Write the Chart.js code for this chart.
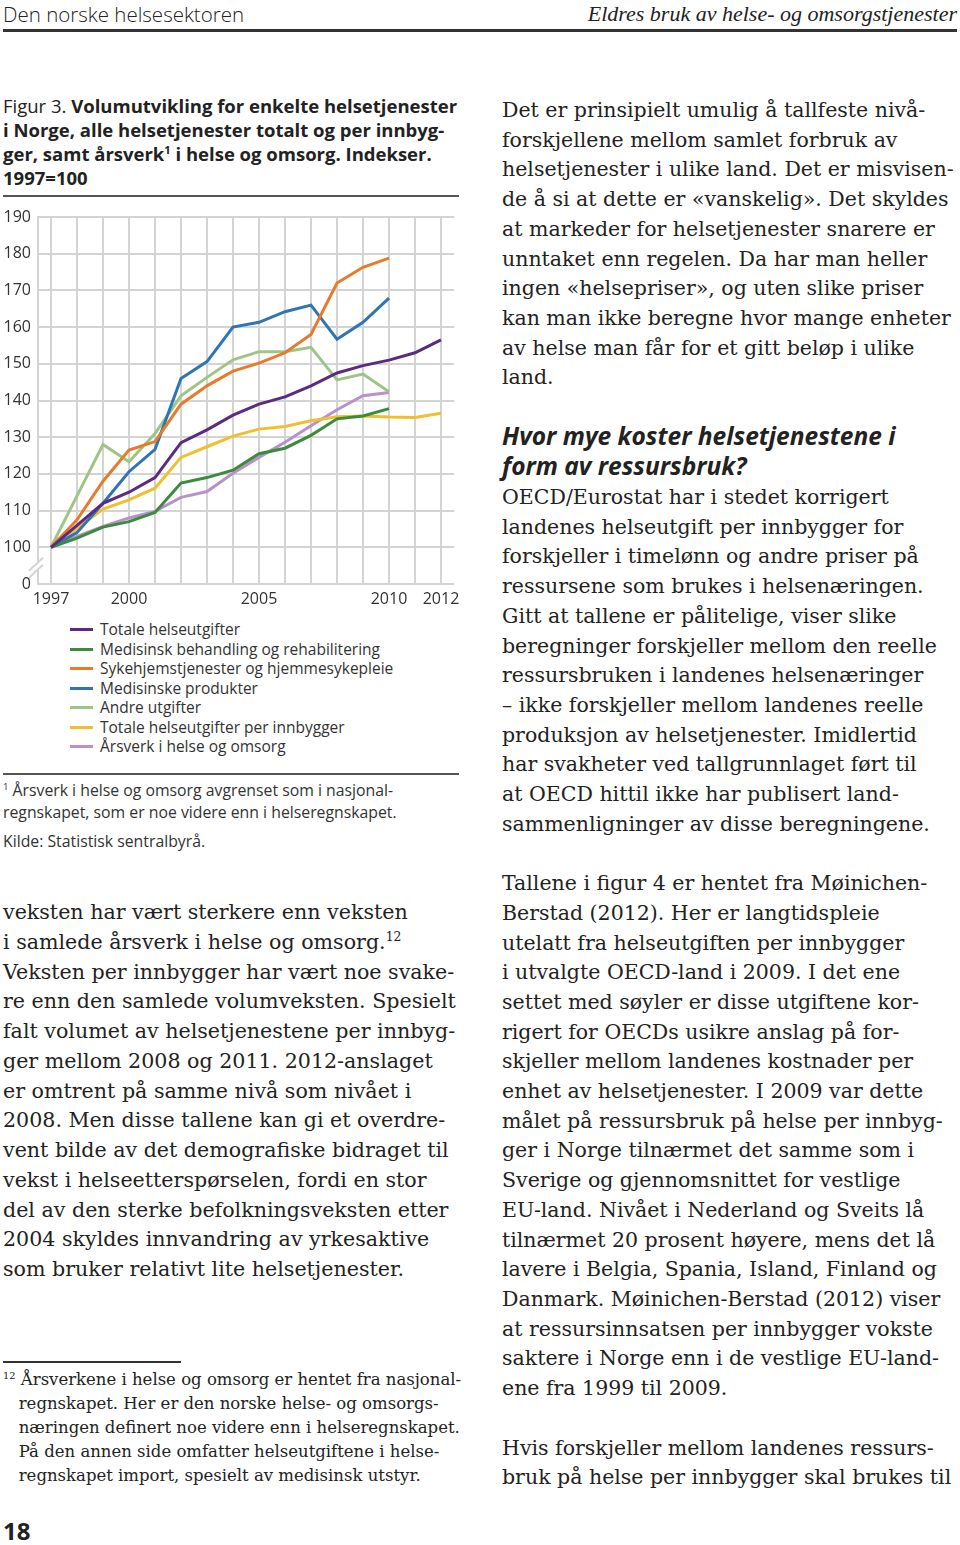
<!DOCTYPE html>
<html lang="no">
<head>
<meta charset="utf-8">
<script src="https://cdn.jsdelivr.net/npm/chart.js@4.4.1/dist/chart.umd.min.js"></script>
<style>
  html, body { margin: 0; padding: 0; background: #fff; }
  body { width: 960px; height: 1545px; position: relative; overflow: hidden; color: #222; }
  .abs { position: absolute; white-space: pre; }
  .sans { font-family: "Open Sans", "Noto Sans", sans-serif; }
  .serif { font-family: "DejaVu Serif", "Liberation Serif", serif; }
  .lserif { font-family: "Liberation Serif", serif; }
  .rule { position: absolute; }
  sup { font-size: 0.6em; line-height: 0; vertical-align: 0.65em; }
  #legend { position: absolute; left: 70px; top: 620px; font-family: "Open Sans", sans-serif; font-size: 15.5px; color: #333; }
  #legend .row { height: 19.5px; line-height: 19.5px; white-space: nowrap; display: flex; align-items: center; }
  #legend .sw { width: 23px; height: 3px; margin-right: 7px; }
</style>
</head>
<body>

<!-- Running head -->
<div class="abs sans" style="left:3px; top:0px; font-size:20.5px; line-height:28px; color:#222; font-weight:300;">Den norske helsesektoren</div>
<div class="abs lserif" style="right:3px; top:0px; font-size:22px; line-height:28px; font-style:italic; color:#222;">Eldres bruk av helse- og omsorgstjenester</div>
<div class="rule" style="left:3px; top:29px; width:954px; height:3px; background:#333;"></div>

<!-- Figure caption -->
<div class="abs sans" style="left:3px; top:94px; font-size:18.5px; line-height:24px; color:#222;">Figur 3. <b>Volumutvikling for enkelte helsetjenester</b>
<b>i Norge, alle helsetjenester totalt og per innbyg-</b>
<b>ger, samt årsverk<sup>1</sup> i helse og omsorg. Indekser.</b>
<b>1997=100</b></div>
<div class="rule" style="left:3px; top:195px; width:456px; height:2px; background:#555;"></div>

<!-- Chart -->
<div style="position:absolute; left:0px; top:200px; width:470px; height:412px;">
  <canvas id="c" width="470" height="412"></canvas>
</div>
<div id="legend"></div>
<div class="rule" style="left:3px; top:773px; width:456px; height:2px; background:#555;"></div>

<div class="abs sans" style="left:3px; top:779px; font-size:15.8px; line-height:22px; color:#333;"><sup>1</sup> Årsverk i helse og omsorg avgrenset som i nasjonal-
regnskapet, som er noe videre enn i helseregnskapet.</div>
<div class="abs sans" style="left:3px; top:830px; font-size:15.8px; line-height:22px; color:#333;">Kilde: Statistisk sentralbyrå.</div>

<!-- Left body text -->
<div class="abs serif" style="left:3px; top:898px; font-size:20.6px; line-height:29.75px;">veksten har vært sterkere enn veksten
i samlede årsverk i helse og omsorg.<sup>12</sup>
Veksten per innbygger har vært noe svake-
re enn den samlede volumveksten. Spesielt
falt volumet av helsetjenestene per innbyg-
ger mellom 2008 og 2011. 2012-anslaget
er omtrent på samme nivå som nivået i
2008. Men disse tallene kan gi et overdre-
vent bilde av det demografiske bidraget til
vekst i helseetterspørselen, fordi en stor
del av den sterke befolkningsveksten etter
2004 skyldes innvandring av yrkesaktive
som bruker relativt lite helsetjenester.</div>

<!-- Footnote 12 -->
<div class="rule" style="left:3px; top:1361px; width:178px; height:1.5px; background:#333;"></div>
<div class="abs serif" style="left:3px; top:1368px; font-size:16.5px; line-height:24px;"><sup>12</sup> Årsverkene i helse og omsorg er hentet fra nasjonal-
   regnskapet. Her er den norske helse- og omsorgs-
   næringen definert noe videre enn i helseregnskapet.
   På den annen side omfatter helseutgiftene i helse-
   regnskapet import, spesielt av medisinsk utstyr.</div>

<div class="abs sans" style="left:3px; top:1516px; font-size:24px; line-height:30px; font-weight:bold; color:#222;">18</div>

<!-- Right column -->
<div class="abs serif" style="left:502px; top:96px; font-size:20.5px; line-height:29.7px;">Det er prinsipielt umulig å tallfeste nivå-
forskjellene mellom samlet forbruk av
helsetjenester i ulike land. Det er misvisen-
de å si at dette er «vanskelig». Det skyldes
at markeder for helsetjenester snarere er
unntaket enn regelen. Da har man heller
ingen «helsepriser», og uten slike priser
kan man ikke beregne hvor mange enheter
av helse man får for et gitt beløp i ulike
land.</div>

<div class="abs sans" style="left:502px; top:421px; font-size:24.5px; line-height:29.7px; font-weight:bold; font-style:italic; color:#222;">Hvor mye koster helsetjenestene i
form av ressursbruk?</div>

<div class="abs serif" style="left:502px; top:483px; font-size:20.5px; line-height:29.7px;">OECD/Eurostat har i stedet korrigert
landenes helseutgift per innbygger for
forskjeller i timelønn og andre priser på
ressursene som brukes i helsenæringen.
Gitt at tallene er pålitelige, viser slike
beregninger forskjeller mellom den reelle
ressursbruken i landenes helsenæringer
– ikke forskjeller mellom landenes reelle
produksjon av helsetjenester. Imidlertid
har svakheter ved tallgrunnlaget ført til
at OECD hittil ikke har publisert land-
sammenligninger av disse beregningene.

Tallene i figur 4 er hentet fra Møinichen-
Berstad (2012). Her er langtidspleie
utelatt fra helseutgiften per innbygger
i utvalgte OECD-land i 2009. I det ene
settet med søyler er disse utgiftene kor-
rigert for OECDs usikre anslag på for-
skjeller mellom landenes kostnader per
enhet av helsetjenester. I 2009 var dette
målet på ressursbruk på helse per innbyg-
ger i Norge tilnærmet det samme som i
Sverige og gjennomsnittet for vestlige
EU-land. Nivået i Nederland og Sveits lå
tilnærmet 20 prosent høyere, mens det lå
lavere i Belgia, Spania, Island, Finland og
Danmark. Møinichen-Berstad (2012) viser
at ressursinnsatsen per innbygger vokste
saktere i Norge enn i de vestlige EU-land-
ene fra 1999 til 2009.

Hvis forskjeller mellom landenes ressurs-
bruk på helse per innbygger skal brukes til</div>

<script>
// ---- Data ----
const years = ['1997','1998','1999','2000','2001','2002','2003','2004','2005','2006','2007','2008','2009','2010','2011','2012'];
const shownYearLabels = ['1997','2000','2005','2010','2012'];
const yTickValues = [90,100,110,120,130,140,150,160,170,180,190];
const yTickLabels = ['0','100','110','120','130','140','150','160','170','180','190'];

const totaleHelseutgifter   = [100, 106, 112, 115, 119, 128.5, 132, 136, 139, 141, 144, 147.5, 149.5, 151, 153, 156.5];
const medisinskBehandling   = [100, 102.5, 105.5, 107, 109.5, 117.5, 119, 121, 125.5, 127, 130.5, 135, 135.8, 137.8, null, null];
const sykehjemstjenester    = [100, 107.5, 118, 126.5, 128.8, 139, 144, 148, 150.2, 153, 158, 172, 176.3, 178.8, null, null];
const medisinskeProdukter   = [100, 104, 112, 120.6, 126.7, 146, 150.6, 160, 161.3, 164.2, 166, 156.7, 161.3, 167.9, null, null];
const andreUtgifter         = [100, 114, 128, 123.3, 131, 141.3, 146.3, 151.1, 153.3, 153.3, 154.5, 145.6, 147.2, 142.4, null, null];
const totalePerInnbygger    = [100, 105.2, 110.4, 112.9, 116.1, 124.5, 127.4, 130.3, 132.2, 132.9, 134.5, 135.6, 135.8, 135.5, 135.4, 136.5];
const arsverk               = [100, 103, 105.7, 108, 109.8, 113.6, 115.2, 120.2, 124.5, 128.6, 133.1, 137.5, 141.3, 142.2, null, null];

const seriesNames = [
  'Totale helseutgifter',
  'Medisinsk behandling og rehabilitering',
  'Sykehjemstjenester og hjemmesykepleie',
  'Medisinske produkter',
  'Andre utgifter',
  'Totale helseutgifter per innbygger',
  'Årsverk i helse og omsorg'
];
const seriesValues = [totaleHelseutgifter, medisinskBehandling, sykehjemstjenester, medisinskeProdukter, andreUtgifter, totalePerInnbygger, arsverk];
const seriesColors = ['#5b2b82', '#3c8a3c', '#e87a2b', '#2f74b4', '#9fc585', '#f0bf2e', '#b792ca'];

const GRID = '#d4d4d4';

const breakMark = {
  id: 'breakMark',
  afterDraw(chart) {
    const ctx = chart.ctx;
    const ys = chart.scales.y;
    const x0 = chart.chartArea.left;
    const yc = ys.getPixelForValue(95);
    ctx.save();
    ctx.fillStyle = '#fff';
    ctx.beginPath();
    ctx.moveTo(x0 - 8, yc + 6);
    ctx.lineTo(x0 + 4, yc - 6);
    ctx.lineTo(x0 + 4, yc - 1);
    ctx.lineTo(x0 - 8, yc + 11);
    ctx.closePath();
    ctx.fill();
    ctx.strokeStyle = GRID;
    ctx.lineWidth = 2;
    ctx.beginPath();
    ctx.moveTo(x0 - 9, yc + 5);
    ctx.lineTo(x0 + 5, yc - 8);
    ctx.moveTo(x0 - 9, yc + 12);
    ctx.lineTo(x0 + 5, yc - 1);
    ctx.stroke();
    ctx.restore();
  }
};

const chart = new Chart(document.getElementById('c'), {
  type: 'line',
  data: {
    labels: years,
    datasets: seriesNames.map((name, i) => ({
      label: name,
      data: seriesValues[i],
      borderColor: seriesColors[i],
      backgroundColor: seriesColors[i],
      borderWidth: 3,
      pointRadius: 0,
      tension: 0,
      fill: false,
      spanGaps: false
    }))
  },
  options: {
    responsive: false,
    animation: false,
    layout: { padding: { top: 17, right: 16, left: 0, bottom: 0 } },
    plugins: { legend: { display: false }, tooltip: { enabled: false } },
    scales: {
      x: {
        type: 'category',
        offset: true,
        grid: { offset: false, color: GRID, lineWidth: 2, drawTicks: false },
        border: { display: false },
        ticks: {
          autoSkip: false, maxRotation: 0, padding: 6,
          color: '#333', font: { family: 'Open Sans', size: 16 },
          callback: (v, i) => shownYearLabels.includes(years[i]) ? years[i] : ''
        },
        afterFit: s => { s.height = 28; }
      },
      y: {
        type: 'linear', min: 90, max: 190,
        afterBuildTicks: s => { s.ticks = yTickValues.map(v => ({ value: v })); },
        grid: { color: GRID, lineWidth: 2, drawTicks: false },
        border: { display: true, color: GRID, width: 2 },
        ticks: {
          padding: 7, color: '#333', font: { family: 'Open Sans', size: 16 },
          callback: v => yTickLabels[yTickValues.indexOf(v)]
        },
        afterFit: s => { s.width = 38; }
      }
    }
  },
  plugins: [breakMark]
});

// HTML legend built from the chart's datasets
const lg = document.getElementById('legend');
chart.data.datasets.forEach(ds => {
  const row = document.createElement('div');
  row.className = 'row';
  const sw = document.createElement('span');
  sw.className = 'sw';
  sw.style.background = ds.borderColor;
  const tx = document.createElement('span');
  tx.textContent = ds.label;
  row.appendChild(sw); row.appendChild(tx);
  lg.appendChild(row);
});
</script>
</body>
</html>
